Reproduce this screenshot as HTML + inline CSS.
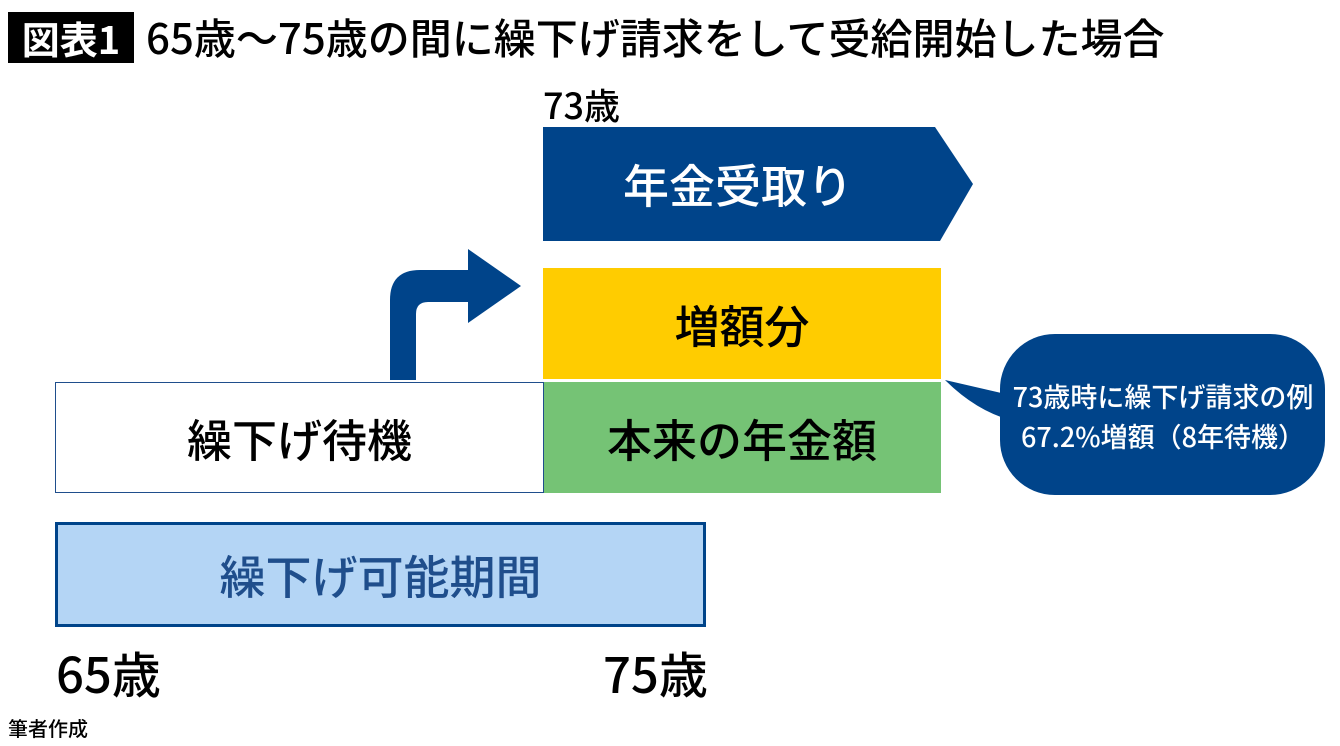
<!DOCTYPE html>
<html><head><meta charset="utf-8"><style>
body{margin:0;width:1340px;height:746px;background:#fff;position:relative;overflow:hidden;font-family:"Noto Sans CJK JP","Liberation Sans",sans-serif;font-weight:500}
.a{position:absolute;display:flex;align-items:center;justify-content:center;box-sizing:border-box}
.t{position:absolute;white-space:nowrap}
</style></head><body>
<div class="a" style="left:8px;top:12px;width:126px;height:51px;background:#000;color:#fff;font-size:38px;font-weight:bold;line-height:1">図表1</div>
<div class="t" style="left:146px;top:10px;font-size:42px;line-height:54px;color:#000">65歳〜75歳の間に繰下げ請求をして受給開始した場合</div>
<div class="t" style="left:543px;top:82px;font-size:36px;line-height:44px">73歳</div>
<svg style="position:absolute;left:0;top:0" width="1340" height="746">
<polygon points="543,127 935,127 973,184 940,241 543,241" fill="#00448a"/>
<path d="M390,380 L390,300 Q390,270 420,270 L468,270 L468,249 L521,286 L468,323 L468,302 L428,302 Q416,302 416,314 L416,380 Z" fill="#00448a"/>
<path d="M945,380 Q975,410 1010,420 L1010,395 Z" fill="#00448a"/>
<rect x="1000" y="334" width="325" height="161" rx="55" fill="#00448a"/>
</svg>
<div class="a" style="left:543px;top:127px;width:390px;height:114px;color:#fff;font-size:46px">年金受取り</div>
<div class="a" style="left:543px;top:268px;width:398px;height:111px;background:#ffcc00;font-size:45px">増額分</div>
<div class="a" style="left:543px;top:382px;width:398px;height:111px;background:#75c375;font-size:45px">本来の年金額</div>
<div class="a" style="left:55px;top:382px;width:489px;height:111px;border:1px solid #1f4e8c;font-size:45px">繰下げ待機</div>
<div class="a" style="left:55px;top:522px;width:651px;height:105px;background:#b4d5f5;border:3px solid #00448a;color:#1f4e8c;font-size:46px">繰下げ可能期間</div>
<div class="t" style="left:1003px;top:376px;width:320px;text-align:center;color:#fff;font-size:27px;line-height:40px">73歳時に繰下げ請求の例<br>67.2%増額（8年待機）</div>
<div class="t" style="left:56px;top:642px;font-size:49px;line-height:62px">65歳</div>
<div class="t" style="left:603px;top:642px;font-size:49px;line-height:62px">75歳</div>
<div class="t" style="left:8px;top:714px;font-size:20px;line-height:28px">筆者作成</div>
</body></html>
